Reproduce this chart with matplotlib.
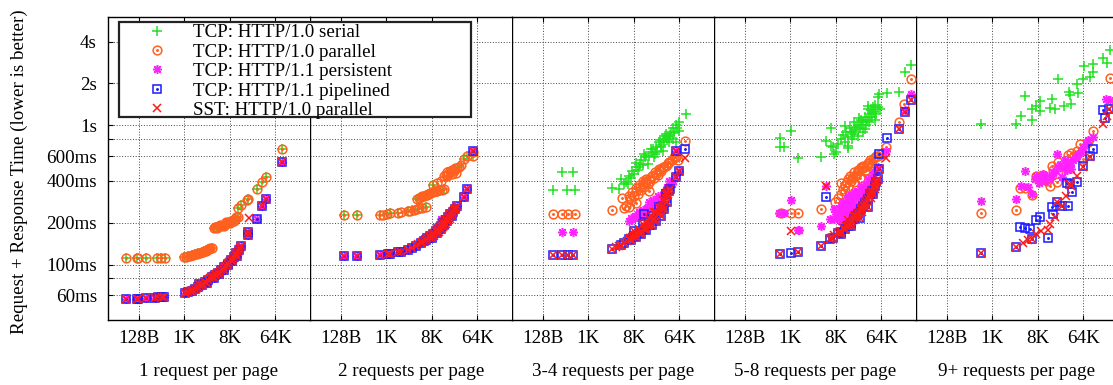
import numpy as np
import matplotlib
matplotlib.use('Agg')
import matplotlib.pyplot as plt
from matplotlib.patches import Rectangle
from matplotlib.ticker import FixedLocator, FixedFormatter, NullLocator
from matplotlib.legend_handler import HandlerTuple

plt.rcParams['font.family'] = ['Liberation Serif', 'DejaVu Serif']

# ---------------- labels / ticks ----------------
panel_labels = ['1 request per page', '2 requests per page', '3-4 requests per page',
                '5-8 requests per page', '9+ requests per page']
size_ticks_kb = [0.125, 1, 8, 64]
size_tick_labels = ['128B', '1K', '8K', '64K']
time_ticks_ms = [60, 80, 100, 200, 400, 600, 800, 1000, 2000, 4000]
time_tick_labels = ['60ms', '', '100ms', '200ms', '400ms', '600ms', '', '1s', '2s', '4s']
series_labels = ['TCP: HTTP/1.0 serial', 'TCP: HTTP/1.0 parallel', 'TCP: HTTP/1.1 persistent',
                 'TCP: HTTP/1.1 pipelined', 'SST: HTTP/1.0 parallel']
y_label = 'Request + Response Time (lower is better)'

# ---------------- data: (page size in KB, time in ms) ----------------
# panel 1: 1 request per page
serial_p1 = [(0.069,112),(0.115,112),(0.174,112),(0.291,112),(0.35,112),(0.408,112),
             (1.0,113),(1.2,115),(1.4,117),(1.6,119),(1.9,121),(2.2,123),(2.5,125),(2.8,127),(3.1,129),(3.5,132),
             (3.9,182),(4.3,185),(4.8,188),(5.3,190),(5.8,193),(6.4,196),(7.0,199),(7.7,203),(8.4,206),(9.2,210),
             (10.2,214),(11.5,221),(11.5,254),(13.4,268),(18.2,297),(27.4,348),(35,393),(42,428),(85,680)]
parallel_p1 = [(0.069,112),(0.115,112),(0.122,112),(0.174,112),(0.291,112),(0.35,112),(0.408,112),
               (1.0,113),(1.2,115),(1.4,117),(1.6,119),(1.9,121),(2.2,123),(2.5,125),(2.8,127),(3.1,129),(3.5,132),
               (1.1,114),(1.3,116),(1.5,118),(1.75,120),(2.05,122),(2.35,124),(2.65,126),(3.0,130),(3.3,131),
               (3.9,182),(4.3,185),(4.8,188),(5.3,190),(5.8,193),(6.4,196),(7.0,199),(7.7,203),(8.4,206),(9.2,210),
               (4.0,186),(4.5,183),(5.0,192),(6.0,190),(6.8,201),(8.0,200),(9.6,207),(10.8,218),
               (10.2,214),(11.5,221),(11.5,254),(13.4,268),(17.5,292),(18.2,297),(27.4,348),(35,393),(42,428),(85,680)]
persistent_p1 = [(0.069,56.5),(0.115,56.5),(0.122,56.5),(0.174,57.5),(0.26,58),(0.30,58.2),(0.36,58.3),(0.40,58.3),
                 (1.03,62.4),(1.2,63.5),(1.4,65),(1.63,66.6),(1.9,69),(2.2,71.5),(2.6,74.5),(3.0,77.9),(3.5,81),
                 (4.0,84.5),(4.6,87.5),(5.4,91),(6.2,96),(7.2,101),(8.5,107),(9.6,114),(10.8,121),(12.0,128),(13.4,135),
                 (2.0,72.5),(2.8,74),(3.8,80),(4.8,85),(6.0,92),(7.5,99),(9.0,106),(11.0,116),
                 (18.1,163),(18.6,172),(27.4,212),(35,264),(42,295),(85,544)]
pipelined_p1 = [(0.069,56.5),(0.115,56.5),(0.122,56.5),(0.174,57.5),(0.26,58),(0.30,58.2),(0.36,58.3),(0.40,58.3),
                (1.03,62.4),(1.2,63.5),(1.4,65),(1.63,66.6),(1.9,69),(2.2,71.5),(2.6,74.5),(3.0,77.9),(3.5,81),
                (4.0,84.5),(4.6,87.5),(5.4,91),(6.2,96),(7.2,101),(8.5,107),(9.6,114),(10.8,121),(12.0,128),(13.4,135),
                (2.0,72.5),(2.8,74),(3.8,80),(4.8,85),(6.0,92),(7.5,99),(9.0,106),(11.0,116),
                (18.1,163),(18.6,172),(27.4,212),(35,264),(42,295),(85,544)]
sst_p1 = [(0.069,56.5),(0.115,56.5),(0.122,56.5),(0.174,57.5),(0.26,58),(0.30,58.2),(0.36,58.3),(0.40,58.3),
          (1.03,62.4),(1.2,63.5),(1.4,65),(1.63,66.6),(1.9,69),(2.2,71.5),(2.6,74.5),(3.0,77.9),(3.5,81),
          (4.0,84.5),(4.6,87.5),(5.4,91),(6.2,96),(7.2,101),(8.5,107),(9.6,114),(10.8,121),(12.0,128),(13.4,135),
          (2.0,72.5),(2.8,74),(3.8,80),(4.8,85),(6.0,92),(7.5,99),(9.0,106),(11.0,116),
          (1.1,63),(1.3,64.2),(1.5,65.8),(1.75,67.8),(2.05,70.2),(2.4,73),(3.2,79.5),(3.7,82.5),(4.3,86),
          (5.0,89),(5.8,93.5),(6.7,98.5),(7.8,104),(9.1,110),(10.2,117),(11.4,124),(12.7,131),
          (18.1,163),(18.6,172),(19.4,215),(35,264),(42,295),(85,544)]

# panel 2: 2 requests per page
serial_p2 = [(0.144,226),(0.258,226),(0.735,226),(1.04,232),(1.2,233),(1.69,236),(2.7,242),(3.3,246),(4.2,250),
             (5.2,255),(6.0,259),(4.0,298),(5.0,306),(6.2,316),(7.5,325),(9.0,334),(11,341),(13.8,348),(8.5,372),
             (16,459),(19,470),(22,480),(27,500),(34,573),(40,605),(52,605)]
parallel_p2 = [(0.144,226),(0.258,226),(0.735,226),(0.85,228),(1.04,232),(1.2,233),(1.69,236),(2.0,238),(2.7,242),
               (3.0,244),(3.5,247),(4.0,250),(4.5,253),(5.2,256),(6.0,259),(4.0,298),(4.5,302),(4.8,305),(5.5,312),
               (6.0,316),(6.5,318),(7.0,322),(7.5,325),(8.5,333),(9.5,338),(11,342),(12.5,346),(13.8,348),(8.5,372),
               (5.0,310),(6.8,320),(8,330),(10,340),(15,440),(17,450),(22,470),(25,495),
               (10.2,384),(12.3,399),(14,430),(16,430),(16,459),(18,470),(20,480),(20,445),(23,490),(24,455),(27,500),
               (30,520),(34,573),(40,605),(52,640),(52,605)]
persistent_p2 = [(0.144,115),(0.258,115),(0.735,117),(1.07,119.5),(1.2,120),(1.69,122.5),(2.0,124),(2.7,128),(3.2,131),
                 (3.8,136),(4.8,143),(5.5,148),(6.5,154),(7.5,160),(8.5,166),(9.5,174),(10.5,181),(11.9,189),(13.5,199),
                 (15,209),(16.8,219),(18.7,230),(21,240),(23,250),(25,263),(6,149),(8,156),(10,170),(12,180),(14,192),
                 (16,205),(20,225),(11.9,211),(34,308),(40,348),(52,655)]
pipelined_p2 = [(0.144,115),(0.258,115),(0.735,117),(1.07,119.5),(1.2,120),(1.69,122.5),(2.0,124),(2.7,128),(3.2,131),
                (3.8,136),(4.8,143),(5.5,148),(6.5,154),(7.5,160),(8.5,166),(9.5,174),(10.5,181),(11.9,189),(13.5,199),
                (15,209),(16.8,219),(18.7,230),(21,240),(23,250),(25,263),(6,149),(8,156),(10,170),(12,180),(14,192),
                (16,205),(20,225),(34,308),(40,348),(52,655)]
sst_p2 = [(0.144,115),(0.258,115),(0.735,117),(1.07,119.5),(1.2,120),(1.69,122.5),(2.0,124),(2.7,128),(3.2,131),
          (3.8,136),(4.8,143),(5.5,148),(6.5,154),(7.5,160),(8.5,166),(9.5,174),(10.5,181),(11.9,189),(13.5,199),
          (15,209),(16.8,219),(18.7,230),(21,240),(23,250),(25,263),(6,149),(8,156),(10,170),(12,180),(14,192),
          (4.3,140),(5.1,145),(6.0,151),(7.0,157),(8.0,163),(9.0,170),(10,177),(11.2,185),(12.7,194),(14.2,204),
          (15.8,214),(17.7,225),(19.8,235),(22,245),(24,256),(9,160),(11,172),(13,185),(15,196),(18,212),
          (16,205),(20,225),(34,308),(40,348),(52,655)]

# panel 3: 3-4 requests per page
serial_p3 = [(0.296,459),(0.508,459),(0.198,343),(0.374,343),(0.542,343),
             (3.0,357),(4.4,414),(5.0,378),(6.0,378),(7.5,471),(8.7,540),(10.2,500),(12.8,624),(14.9,526),(17.3,678),
             (20,590),(25,757),(29.6,655),(34,866),(40,757),(46.7,800),(54,1000),(61.5,917),(54,757),(85,1200),
             (4.0,350),(5.5,390),(7,420),(8,450),(9.5,480),(11,560),(12,520),(13,590),(16,600),(18,640),(22,700),
             (23,640),(27,720),(30,800),(32,760),(36,780),(38,830),(44,900),(50,880),(58,950),(64,1050),
             (6.5,430),(9,500),(10.5,530),(14,600),(19,680),(21,620),(26,780),(28,700),(33,840),(42,850),(48,950)]
parallel_p3 = [(0.2,230),(0.296,230),(0.39,230),(0.542,230),
               (3.0,245),(4.7,303),(5.1,256),(6.3,258),(8.7,275),(6.3,311),(8.7,357),(11.9,399),(16,338),(18.7,432),
               (25,485),(34,512),(40,545),(54,605),(83,775),(54,590),
               (5.5,265),(7,290),(7.5,330),(9.5,320),(10,370),(11,345),(12.5,360),(13,390),(14,410),(15,380),(17,400),
               (20,420),(22,450),(24,440),(28,470),(30,500),(36,520),(45,560),(50,590),(60,560),
               (6.8,300),(8,310),(9,340),(10.5,360),(12,380),(14,395),(16,415),(18,430),(21,460),(26,480),(32,505),(38,540)]
persistent_p3 = [(0.296,171),(0.508,171),
                 (7.5,211),(10.2,230),(13.8,250),(18.7,271),(25,295),(34,320),(40,399),(22,250),(54,655),(63,471),
                 (52,430),(6.5,205),(8,215),(9,222),(11,235),(12,245),(15,260),(17,262),(20,280),(28,300),(30,310),
                 (45,380),(48,400),
                 (7,215),(8.5,225),(10,240),(11.5,225),(13,240),(14.5,255),(16,280),(19,290),(24,310),(26,290),(32,330),(36,360)]
pipelined_p3 = [(0.2,117),(0.296,117),(0.4,117),(0.508,117),
                (3.0,130),(4.4,139),(5.2,144),(6.3,152),(8,160),(10.2,169),(12.5,180),(16,194),(20,213),(25,236),
                (30,265),(35,300),(40,338),(12.8,230),(54,423),(63,471),(54,655),(83,672),
                (7,150),(9,158),(11,165),(14,178),(18,192),(22,205),(28,225),(32,250),(37,280),
                (8,175),(12,195),(18,225),(25,260),(35,320),(42,350)]
sst_p3 = [(0.2,117),(0.296,117),(0.4,117),(0.508,117),
          (3.0,130),(4.4,139),(5.2,144),(6.3,152),(8,160),(10.2,169),(12.5,180),(16,194),(20,213),(25,236),
          (30,265),(35,300),(40,338),(54,423),(63,471),(54,655),(83,582),
          (7,150),(9,158),(11,165),(14,178),(18,192),(22,205),(28,225),(32,250),(37,280),
          (8,175),(12,195),(18,225),(25,260),(35,320),(42,350),
          (3.5,134),(4.0,137),(5.8,148),(6.8,155),(7.5,158),(9,165),(11,175),(13.5,185),(15,190),(17,200),(19,208),
          (22,220),(24,230),(27,245),(29,258),(33,285),(38,320),(10,180),(14,200),(20,240),(30,290),(36,330),
          (16,215),(22,240)]

# panel 4: 5-8 requests per page
serial_p4 = [(0.632,807),(1.04,918),(0.632,698),(0.767,698),(1.4,582),(4.1,594),(6.3,954),
             (5.1,775),(6.4,712),(8.1,640),(10.2,800),(11.9,995),(13.8,712),(16,895),(18.7,1050),(21.7,840),
             (25,1100),(29.6,943),(34,1380),(37,1050),(40,1280),(46.7,1100),(54,1600),(58,1680),(82,1720),
             (145,1730),(191,2420),(248,2700),
             (7,700),(9,740),(12,760),(14,820),(15,950),(17,900),(20,980),(22,1000),(24,950),(27,1050),(30,1150),
             (32,1000),(36,1200),(42,1150),(45,1250),(50,1200),(60,1300),(13.8,690),(7.5,624),
             (11,850),(12.5,900),(16.5,800),(18,860),(19.5,920),(23,1120),(26,1000),(28,900),(33,1100),(35,1300),
             (39,1150),(43,1350),(48,1400),(55,1350)]
parallel_p4 = [(0.662,236),(1.04,236),(1.45,236),(4.1,250),(10.2,384),
               (13.8,410),(18.7,459),(25,500),(34,540),(46.7,590),(63,624),(7.6,280),(11.9,340),(79,698),(141,1060),
               (177,1430),(248,2140),
               (12,370),(15,430),(16,400),(20,440),(22,480),(28,510),(30,470),(38,560),(42,520),(55,600),(9,300),
               (10,320),(14,360),(18,390),(24,420),(32,480),(40,500),
               (11,350),(13,390),(17,420),(19,430),(21,455),(23,470),(26,490),(29,500),(33,520),(36,540),(44,570),(50,600)]
persistent_p4 = [(0.585,236),(0.66,236),(0.735,236),(1.04,290),(1.4,177),(1.5,178),(4.1,189),(5,367),
                 (6,211),(7.5,250),(10.2,263),(13.8,311),(18.7,330),(25,367),(34,410),(46.7,459),(7.5,211),(13.8,236),
                 (18.7,263),(25,295),(10.2,204),(9,235),(11,280),(12,250),(15,290),(16,270),(20,300),(22,340),(28,350),
                 (30,330),(36,380),(40,420),(50,480),(55,500),(79,655),(191,1280),(248,1680),
                 (8,230),(9.5,250),(11,240),(12,270),(13,260),(14,290),(16,300),(17,280),(19,310),(21,320),(23,310),
                 (26,340),(32,370),(38,400),(44,440),(8.5,215),(11.5,215),(15,250),(20,270),(27,310)]
pipelined_p4 = [(0.632,119),(1.04,121),(1.45,124),(4.1,136),(5,306),
                (6,152),(8.7,169),(13.8,189),(18.7,211),(25,250),(34,295),(46.7,367),(54,410),(58,485),(58,624),
                (82,810),(141,943),(190,1240),(248,1530),
                (7,155),(10,172),(12,180),(16,200),(20,225),(22,230),(28,265),(30,275),(38,320),(42,340),(50,390),
                (10,165),(16,190),(24,215),(34,260),(44,320)]
sst_p4 = [(0.632,119),(1.45,124),(1.04,174),(4.1,136),(5,367),
          (6,152),(8.7,169),(13.8,189),(18.7,211),(25,250),(34,295),(46.7,367),(54,410),(58,485),
          (79,582),(141,943),(190,1240),(248,1530),
          (7,155),(10,172),(12,180),(16,200),(20,225),(22,230),(28,265),(30,275),(38,320),(42,340),(50,390),
          (10,165),(16,190),(24,215),(34,260),(44,320),
          (6.5,156),(7.5,163),(9.5,175),(11,182),(12.5,190),(14.5,195),(17,205),(19.5,218),(21,225),(23,238),
          (26,255),(29,270),(32,285),(36,310),(40,330),(45,355),(48,380),(52,400),(14,210),(18,225),(26,240),
          (30,260),(40,300),(48,350)]

# panel 5: 9+ requests per page
serial_p5 = [(0.593,1020),(2.9,1030),(3.7,1160),(4.4,1620),(6,1100),(6,1300),(7.3,1380),(9,1490),(9,1260),
             (13.8,1330),(15.5,1540),(17.3,1320),(20,2160),(26,1380),(33,1750),(35,1640),(37,1430),(46.7,1980),
             (50,1710),(63,2160),(66,2660),(85,2240),(97,2740),(97,2420),(157,3040),(183,2810),(213,3500)]
parallel_p5 = [(0.593,236),(2.9,245),(3.5,357),(4.4,354),(6,316),(7.3,432),(9,432),(13.8,367),(14.9,512),(20,545),
               (19.4,393),(24,471),(32,612),(37,635),(46.7,655),(54,738),(63,573),(79,757),(97,917),(213,2180),
               (8,420),(10,440),(12,400),(16,480),(28,520),(42,600)]
persistent_p5 = [(0.593,286),(2.9,298),(3.7,367),(4.4,471),(6,320),(7.5,432),(8.5,388),(11,399),(14.9,432),(16,459),
                 (19.4,624),(24,423),(32,540),(37,485),(46.7,605),(63,685),(73,738),(97,822),(177,1540),(213,1510),
                 (5,360),(7,410),(9,420),(10,445),(12,430),(13,410),(18,470),(20,500),(22,520),(26,500),(28,560),
                 (30,480),(34,520),(40,560),(44,580),(50,620),(56,640),(80,780)]
pipelined_p5 = [(0.593,121),(2.9,133),(3.6,186),(4.4,183),(5.7,181),(6,153),(7.2,209),(9,219),(12.7,156),(15.5,258),
                (16,230),(19.4,282),(24,263),(30,384),(32,263),(34,378),(38,332),(48,393),(63,512),(85,600),(97,678),
                (157,1280),(168,1130),(208,1320)]
sst_p5 = [(0.593,121),(2.9,133),(4.1,143),(5,150),(6,153),(7.5,165),(9.4,174),(12.7,178),(13.8,197),(17.3,221),
          (19.4,282),(24,263),(28.5,311),(34,378),(37,367),(48,432),(63,500),(85,590),(155,1020),(183,1160),(208,1320)]

# ---------------- styling ----------------
green = '#22e022'
orange = '#ff6020'
magenta = '#ff22ff'
blue = '#1a1aff'
red = '#ff1a1a'

series = [
    ([serial_p1, serial_p2, serial_p3, serial_p4, serial_p5],
     dict(marker='+', color=green, ms=7.2, mew=1.1), None),
    ([parallel_p1, parallel_p2, parallel_p3, parallel_p4, parallel_p5],
     dict(marker='o', mfc='none', mec=orange, ms=6.3, mew=1.1), orange),
    ([persistent_p1, persistent_p2, persistent_p3, persistent_p4, persistent_p5],
     dict(marker=(8, 2, 0), color=magenta, ms=6.5, mew=1.1), None),
    ([pipelined_p1, pipelined_p2, pipelined_p3, pipelined_p4, pipelined_p5],
     dict(marker='s', mfc='none', mec=blue, ms=5.6, mew=1.1), blue),
    ([sst_p1, sst_p2, sst_p3, sst_p4, sst_p5],
     dict(marker='x', color=red, ms=5.8, mew=1.1), None),
]

FS = 13.7
W, H = 1113, 385
left0, pw, top_px, bot_px = 108, 202, 17, 320

fig = plt.figure(figsize=(W / 100, H / 100), dpi=100)
axes = []
for k in range(5):
    ax = fig.add_axes([(left0 + pw * k) / W, (H - bot_px) / H, pw / W, (bot_px - top_px) / H],
                      sharey=axes[0] if axes else None)
    axes.append(ax)
    ax.set_zorder(10 if k == 0 else 5 - k)
    ax.set_xscale('log')
    ax.set_yscale('log')
    ax.set_xlim(10 ** 1.5 / 1024, 10 ** 5.5 / 1024)
    ax.set_ylim(40, 6000)
    ax.xaxis.set_major_locator(FixedLocator(size_ticks_kb))
    ax.xaxis.set_major_formatter(FixedFormatter(size_tick_labels))
    ax.xaxis.set_minor_locator(NullLocator())
    ax.yaxis.set_major_locator(FixedLocator(time_ticks_ms))
    ax.yaxis.set_major_formatter(FixedFormatter(time_tick_labels))
    ax.yaxis.set_minor_locator(NullLocator())
    ax.set_axisbelow(True)
    ax.grid(True, which='major', color='#444444', lw=0.7, ls=(0, (1, 1.8)))
    ax.tick_params(direction='in', top=True, bottom=True, length=3.5, width=0.8,
                   labelsize=FS, colors='black')
    ax.tick_params(axis='x', pad=7)
    ax.tick_params(axis='y', pad=8)
    if k > 0:
        ax.tick_params(axis='y', left=False, labelleft=False)
    ax.spines['right'].set_visible(False)
    for s in ('left', 'top', 'bottom'):
        ax.spines[s].set_linewidth(1.0)
        ax.spines[s].set_color('black')
    ax.text(0.5, (bot_px - 371) / (bot_px - top_px), panel_labels[k], transform=ax.transAxes,
            ha='center', va='center', fontsize=FS)

handles = []
for zi, (data, style, dotcol) in enumerate(series):
    for k, ax in enumerate(axes):
        pts = data[k]
        xs = [p[0] for p in pts]
        ys = [p[1] for p in pts]
        ln, = ax.plot(xs, ys, linestyle='none', zorder=3 + zi, **style)
        if dotcol is not None:
            dt, = ax.plot(xs, ys, linestyle='none', marker='o', ms=1.1, color=dotcol, zorder=3 + zi)
        if k == 0:
            if dotcol is not None:
                handles.append((ln, dt))
            else:
                handles.append(ln)

ax0 = axes[0]
# legend box
bx0 = (119 - left0) / pw
by0 = (bot_px - 117) / (bot_px - top_px)
bw = (471 - 119) / pw
bh = (117 - 22) / (bot_px - top_px)
ax0.add_patch(Rectangle((bx0, by0), bw, bh, transform=ax0.transAxes, facecolor='white',
                        edgecolor='#222222', lw=1.6, clip_on=False, zorder=20))
leg = ax0.legend(handles, series_labels, loc='upper left',
                 bbox_to_anchor=((138 - left0) / pw, (bot_px - 24) / (bot_px - top_px)),
                 frameon=False, borderpad=0.0, borderaxespad=0.0, handlelength=2.0,
                 handletextpad=0.9, labelspacing=0.11, numpoints=1, fontsize=FS,
                 handler_map={tuple: HandlerTuple(ndivide=1, pad=0.0)})
leg.set_zorder(21)

fig.text(19 / W, 1 - 172 / H, y_label, rotation=90, ha='center', va='center', fontsize=FS)

fig.savefig('out.png', dpi=100)
